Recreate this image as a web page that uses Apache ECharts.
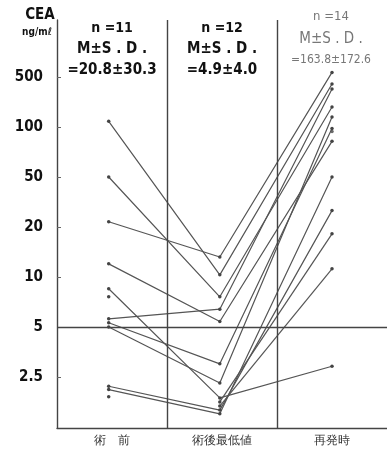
<!DOCTYPE html>
<html>
<head>
<meta charset="utf-8">
<script src="https://cdn.jsdelivr.net/npm/echarts@6/dist/echarts.min.js"></script>
<style>
  html, body { margin: 0; padding: 0; background: #fff; }
  #chart { width: 387px; height: 449px; }
</style>
</head>
<body>
<div id="chart"></div>
<script>
// columns
var categories = ['術　前', '術後最低値', '再発時'];
var colX = [0.47, 1.48, 2.5];

// CEA (ng/ml) per patient, null = no value at that stage
var preOp   = [120, 50, 22, 12, 8.5, 7.6, 5.6, 5.3, 5.0, 2.2, 2.1, 1.9, null, null];
var postMin = [10.3, 7.6, 13.2, 5.4, 1.87, null, 6.4, 3.0, 2.3, 1.58, 1.5, null, 1.77, 1.67];
var recur   = [400, 190, 580, 82, 2.9, null, 340, 98, 138, 27, 50, null, 18.2, 11.2];
var recurOnly = [94];

// y ticks are equally spaced on the figure
var yTicks = [2.5, 5, 10, 20, 50, 100, 500];
var yTickLabels = ['2.5', '5', '10', '20', '50', '100', '500'];

var FONT = "'DejaVu Sans Condensed', 'Liberation Sans Narrow', 'Liberation Sans', sans-serif";
var LINE = '#555';

// map a CEA value onto the figure's piecewise-log tick scale
function toPos(v) {
  if (v <= yTicks[0]) return Math.log(v / yTicks[0]) / Math.log(yTicks[1] / yTicks[0]);
  for (var i = 0; i < yTicks.length - 1; i++) {
    if (v <= yTicks[i + 1]) {
      return i + Math.log(v / yTicks[i]) / Math.log(yTicks[i + 1] / yTicks[i]);
    }
  }
  var n = yTicks.length - 1;
  return n + Math.log(v / yTicks[n]) / Math.log(yTicks[n] / yTicks[n - 1]);
}

var series = [];
preOp.forEach(function(p, i) {
  var vals = [p, postMin[i], recur[i]];
  var data = [];
  vals.forEach(function(v, j) {
    if (v != null) data.push([colX[j], toPos(v)]);
  });
  series.push({
    type: 'line', data: data, symbol: 'circle', symbolSize: 3.5,
    itemStyle: {color: '#444'}, lineStyle: {color: LINE, width: 1.2},
    silent: true
  });
});
series.push({
  type: 'scatter', symbolSize: 3.5, itemStyle: {color: '#444'},
  data: recurOnly.map(function(v) { return [colX[2], toPos(v)]; })
});
// frame lines: column separators and the 5 ng/ml line
series.push({
  type: 'line', data: [],
  markLine: {
    silent: true, symbol: 'none', label: {show: false},
    lineStyle: {color: '#444', width: 1.4, type: 'solid'},
    data: [{xAxis: 1}, {xAxis: 2}, {yAxis: toPos(5)}]
  }
});

function head(x, y, text, size, color, weight) {
  return {
    type: 'text', x: x, y: y,
    style: {
      text: text, x: 0, y: 0, align: 'center', verticalAlign: 'middle',
      font: (weight || 'bold') + ' ' + size + 'px ' + FONT, fill: color || '#111'
    }
  };
}

var chart = echarts.init(document.getElementById('chart'));
chart.setOption({
  animation: false,
  grid: {left: 57, right: 0, top: 20, bottom: 21},
  xAxis: {
    type: 'value', min: 0, max: 3,
    axisLine: {show: true, onZero: false, lineStyle: {color: '#444', width: 1.4}},
    axisTick: {show: false},
    splitLine: {show: false},
    axisLabel: {
      customValues: [0.5, 1.5, 2.5], margin: 7,
      fontSize: 12, color: '#333', fontFamily: FONT,
      formatter: function(v) { return categories[Math.floor(v)]; }
    }
  },
  yAxis: {
    type: 'value', min: -1.02, max: 7.14,
    axisLine: {show: true, onZero: false, lineStyle: {color: '#444', width: 1.4}},
    axisTick: {show: true, inside: true, length: 4, customValues: [0, 1, 2, 3, 4, 5, 6],
      lineStyle: {color: '#666'}},
    splitLine: {show: false},
    axisLabel: {
      customValues: [0, 1, 2, 3, 4, 5, 6], margin: 14,
      fontSize: 15, fontWeight: 'bold', color: '#111', fontFamily: FONT,
      formatter: function(v) { return yTickLabels[Math.round(v)]; }
    }
  },
  graphic: [
    head(40, 15, 'CEA', 15),
    head(37, 32, 'ng/mℓ', 10),
    head(112, 28, 'n =11', 14),
    head(112, 49, 'M±S . D .', 15),
    head(112, 70, '=20.8±30.3', 15),
    head(222, 28, 'n =12', 14),
    head(222, 49, 'M±S . D .', 15),
    head(222, 70, '=4.9±4.0', 15),
    head(331, 17, 'n =14', 13, '#777', 'normal'),
    head(331, 39, 'M±S . D .', 15, '#777', 'normal'),
    head(331, 60, '=163.8±172.6', 12, '#777', 'normal')
  ],
  series: series
});
</script>
</body>
</html>
